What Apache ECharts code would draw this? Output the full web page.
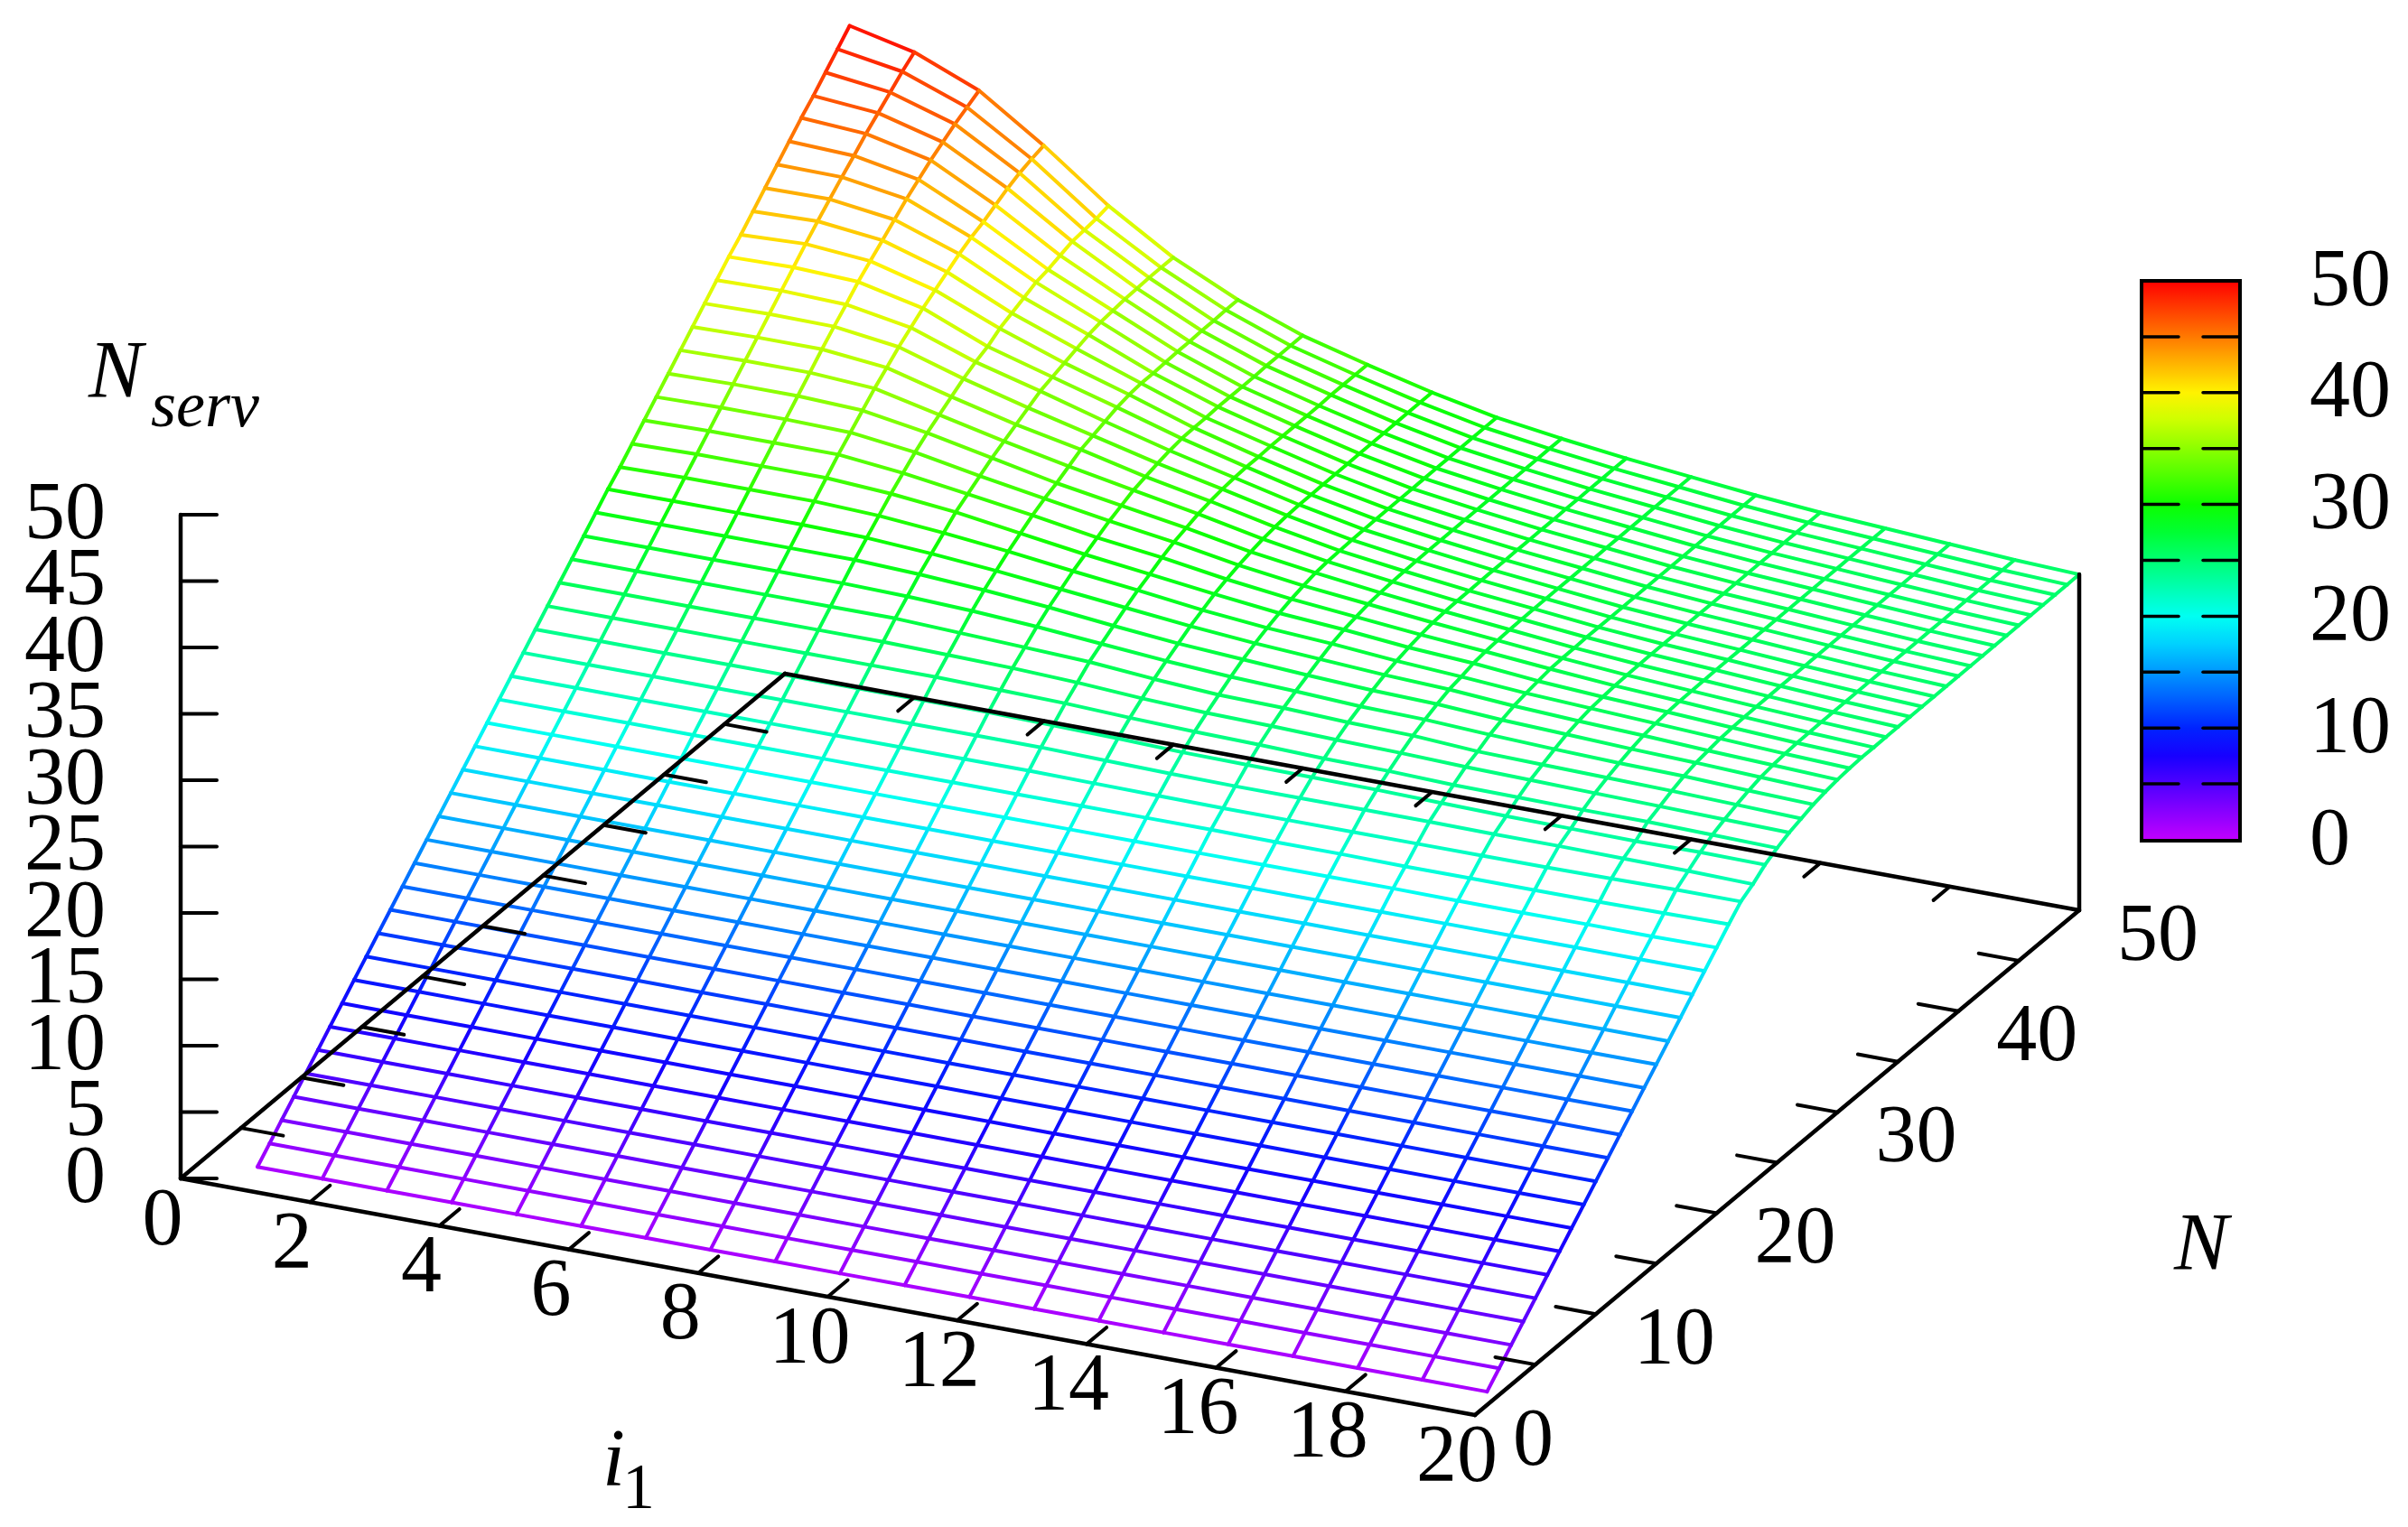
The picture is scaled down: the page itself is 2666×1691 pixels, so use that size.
<!DOCTYPE html>
<html><head><meta charset="utf-8">
<style>html,body{margin:0;padding:0;background:#fff}#c{width:2666px;height:1691px}</style>
<script src="https://cdn.jsdelivr.net/npm/echarts@6/dist/echarts.min.js"></script>
</head><body><div id="c"></div>
<script>
// N_serv read per i1 column, N = 1..50
const z_i01=[1,2,3,4,5,6,7,8,9,10,11,12,13,14,15,16,17,18,19,20,21,22,23,24,25,26,27,28,29,30,30.9,31.9,32.9,33.9,34.9,35.9,36.9,37.9,38.9,39.9,40.8,41.8,42.8,43.8,44.8,45.8,46.7,47.7,48.7,49.7];
const z_i02=[1,2,3,4,5,6,7,8,9,10,11,12,13,14,15,16,17,18,19,20,21,22,23,24,25,26,27,28,29,30,31,32,33,34,35,36,37,38,39,40,41,41.95,42.85,43.75,44.6,45.5,46.3,47.1,47.9,48.6];
const z_i03=[1,2,3,4,5,6,7,8,9,10,11,12,13,14,15,16,17,18,19,20,21,22,23,24,25,26,27,28,29,30,31,32,33,34,35,36,37,37.95,38.85,39.8,40.6,41.4,42.2,43,43.7,44.4,45,45.6,46.1,46.6];
const z_i04=[1,2,3,4,5,6,7,8,9,10,11,12,13,14,15,16,17,18,19,20,21,22,23,24,25,26,27,28,29,30,31,32,33,33.9,34.8,35.7,36.5,37.3,38,38.7,39.3,39.9,40.5,41,41.4,41.9,42.4,42.8,43.1,43.35];
const z_i05=[1,2,3,4,5,6,7,8,9,10,11,12,13,14,15,16,17,18,19,20,21,22,23,24,25,26,27,28,29,29.9,30.8,31.7,32.5,33.3,34,34.6,35.2,35.8,36.3,36.7,37.3,37.7,38.1,38.5,38.7,39,39.3,39.4,39.5,39.7];
const z_i06=[1,2,3,4,5,6,7,8,9,10,11,12,13,14,15,16,17,18,19,20,21,22,23,24,25,26,27,27.9,28.8,29.6,30.4,31.2,31.8,32.4,33,33.5,34,34.5,35,35.3,35.6,35.9,36.2,36.4,36.5,36.6,36.65,36.7,36.7,36.7];
const z_i07=[1,2,3,4,5,6,7,8,9,10,11,12,13,14,15,16,17,18,19,20,21,22,23,24,25,25.9,26.8,27.7,28.5,29.2,29.9,30.5,31.1,31.6,32,32.5,33,33.3,33.6,33.9,34.1,34.2,34.2,34.25,34.3,34.3,34.35,34.35,34.4,34.4];
const z_i08=[1,2,3,4,5,6,7,8,9,10,11,12,13,14,15,16,17,18,19,20,21,22,23,24,24.9,25.8,26.6,27.4,28.1,28.7,29.3,29.8,30.3,30.8,31.2,31.6,31.85,32.1,32.3,32.45,32.5,32.5,32.55,32.55,32.55,32.55,32.6,32.6,32.6,32.6];
const z_i09=[1,2,3,4,5,6,7,8,9,10,11,12,13,14,15,16,17,18,19,20,21,22,23,23.9,24.8,25.6,26.4,27,27.6,28.2,28.75,29.2,29.7,30.1,30.4,30.7,30.9,31.05,31.15,31.2,31.2,31.25,31.25,31.25,31.25,31.25,31.3,31.3,31.3,31.3];
const z_i10=[1,2,3,4,5,6,7,8,9,10,11,12,13,14,15,16,17,18,19,20,21,21.95,22.9,23.8,24.6,25.3,26,26.6,27.15,27.7,28.15,28.6,28.95,29.25,29.5,29.7,29.85,29.95,30,30,30.02,30.03,30.04,30.05,30.06,30.07,30.08,30.09,30.1,30.1];
const z_i11=[1,2,3,4,5,6,7,8,9,10,11,12,13,14,15,16,17,18,19,20,21,21.9,22.8,23.65,24.45,25.1,25.7,26.3,26.85,27.3,27.7,28.05,28.35,28.6,28.8,28.9,28.95,29,29.02,29.04,29.05,29.05,29.06,29.07,29.08,29.08,29.09,29.09,29.1,29.1];
const z_i12=[1,2,3,4,5,6,7,8,9,10,11,12,13,14,15,16,17,18,19,20,21,21.85,22.75,23.6,24.35,25,25.6,26.1,26.55,27,27.4,27.7,27.9,28.1,28.2,28.27,28.3,28.32,28.35,28.35,28.36,28.36,28.37,28.37,28.38,28.38,28.39,28.39,28.4,28.4];
const z_i13=[1,2,3,4,5,6,7,8,9,10,11,12,13,14,15,16,17,18,19,20,20.95,21.85,22.75,23.55,24.2,24.85,25.4,25.85,26.3,26.7,27,27.25,27.45,27.6,27.67,27.7,27.72,27.74,27.75,27.75,27.76,27.76,27.77,27.77,27.78,27.78,27.79,27.79,27.8,27.8];
const z_i14=[1,2,3,4,5,6,7,8,9,10,11,12,13,14,15,16,17,18,19,20,20.95,21.85,22.75,23.5,24.15,24.75,25.3,25.75,26.15,26.5,26.7,26.95,27.07,27.15,27.2,27.22,27.25,27.25,27.25,27.25,27.26,27.26,27.27,27.27,27.28,27.28,27.29,27.29,27.3,27.3];
const z_i15=[1,2,3,4,5,6,7,8,9,10,11,12,13,14,15,16,17,18,19,20,20.9,21.85,22.75,23.4,24,24.6,25,25.5,25.85,26.15,26.35,26.5,26.65,26.7,26.72,26.75,26.75,26.75,26.75,26.75,26.76,26.76,26.77,26.77,26.78,26.78,26.79,26.79,26.8,26.8];
const z_i16=[1,2,3,4,5,6,7,8,9,10,11,12,13,14,15,16,17,18,19,19.97,20.9,21.85,22.7,23.3,23.95,24.5,24.9,25.3,25.65,25.9,26.1,26.2,26.28,26.32,26.35,26.37,26.37,26.37,26.38,26.38,26.38,26.38,26.39,26.39,26.39,26.39,26.4,26.4,26.4,26.4];
const z_i17=[1,2,3,4,5,6,7,8,9,10,11,12,13,14,15,16,17,18,19,19.95,20.9,21.85,22.7,23.25,23.9,24.4,24.8,25.15,25.45,25.7,25.85,25.95,26,26.02,26.05,26.07,26.07,26.07,26.08,26.08,26.08,26.08,26.09,26.09,26.09,26.09,26.1,26.1,26.1,26.1];
const z_i18=[1,2,3,4,5,6,7,8,9,10,11,12,13,14,15,16,17,18,19,19.97,20.9,21.9,22.65,23.2,23.9,24.3,24.7,25.05,25.3,25.45,25.6,25.67,25.7,25.72,25.74,25.75,25.75,25.75,25.76,25.76,25.76,25.76,25.77,25.77,25.78,25.78,25.79,25.79,25.8,25.8];
const z_i19=[1,2,3,4,5,6,7,8,9,10,11,12,13,14,15,16,17,18,19,19.95,20.95,21.95,22.6,23.25,23.8,24.2,24.55,24.85,25.1,25.25,25.35,25.4,25.42,25.45,25.45,25.45,25.46,25.46,25.46,25.47,25.47,25.47,25.48,25.48,25.48,25.49,25.49,25.49,25.5,25.5];
const z_i20=[1,2,3,4,5,6,7,8,9,10,11,12,13,14,15,16,17,18,19,20,21,21.95,22.5,23.2,23.7,24.1,24.4,24.7,24.9,25.05,25.15,25.2,25.2,25.21,25.22,25.22,25.23,25.23,25.24,25.24,25.25,25.25,25.26,25.26,25.27,25.27,25.28,25.28,25.29,25.3];
const surface=[z_i01,z_i02,z_i03,z_i04,z_i05,z_i06,z_i07,z_i08,z_i09,z_i10,z_i11,z_i12,z_i13,z_i14,z_i15,z_i16,z_i17,z_i18,z_i19,z_i20];
const i1Labels=[0,2,4,6,8,10,12,14,16,18,20];
const nLabels=[0,10,20,30,40,50];
const nTicks=[5,10,15,20,25,30,35,40,45];
const zLabels=[0,5,10,15,20,25,30,35,40,45,50];
const barLabels=[0,10,20,30,40,50];
const barTicks=[5,10,15,20,25,30,35,40,45];
const rainbow=['#c000ff','#8800ff','#4f00ff','#1700ff','#0023ff','#005dff','#0097ff','#00d1ff','#00fff2','#00ffb2','#00ff73','#00ff33','#0dff00','#4dff00','#8cff00','#ccff00','#fff300','#ffb600','#ff7900','#ff3d00','#ff0000'];

// axonometric view of the (i1, N, value) box
const proj=(i,n,z)=>[200+71.65*i+13.38*n,1305+13.1*i-11.18*n-14.7*z];
const segs=[];
surface.forEach((col,a)=>col.forEach((z,b)=>{
  const p=proj(a+1,b+1,z);
  if(b<col.length-1){const q=proj(a+1,b+2,col[b+1]);segs.push([p[0],p[1],q[0],q[1],(z+col[b+1])/2]);}
  if(a<surface.length-1){const z2=surface[a+1][b];const q=proj(a+2,b+1,z2);segs.push([p[0],p[1],q[0],q[1],(z+z2)/2]);}
}));
const frame=[];
const L=(a,b,w)=>frame.push([a[0],a[1],b[0],b[1],w||4.5]);
L(proj(0,0,0),proj(20,0,0));L(proj(20,0,0),proj(20,50,0));L(proj(20,50,0),proj(0,50,0));L(proj(0,50,0),proj(0,0,0));
L(proj(0,0,0),proj(0,0,50));L(proj(20,50,0),proj(20,50,z_i20[49]));
i1Labels.slice(1,-1).forEach(v=>{L(proj(v,0,0),proj(v,1.65,0),4);L(proj(v,50,0),proj(v,48.65,0),4);});
nTicks.forEach(v=>{L(proj(20,v,0),proj(19.38,v,0),4);L(proj(0,v,0),proj(0.65,v,0),4);});
zLabels.forEach(v=>{const p=proj(0,0,v);L(p,[p[0]+40,p[1]],4);});
const barY=v=>930-12.38*v;
barTicks.forEach(v=>{L([2372,barY(v)],[2412,barY(v)],3.5);L([2439,barY(v)],[2478,barY(v)],3.5);});
const SERIF='"Liberation Serif","Times New Roman",serif';
const F=90;
const labelData=[];
const add=(s,x,y,al,font)=>labelData.push([x,y,s,al,font]);
i1Labels.forEach(v=>{const p=proj(v,0,0);add(v,p[0]-20,p[1]+49,'center',F+'px '+SERIF);});
nLabels.forEach(v=>{const p=proj(20,v,0);add(v,p[0]+42,p[1]+31,'left',F+'px '+SERIF);});
zLabels.forEach(v=>{const p=proj(0,0,v);add(v,117,p[1]+2,'right',F+'px '+SERIF);});
barLabels.forEach(v=>add(v,2557,barY(v)+3,'left',F+'px '+SERIF));
add('N',98,416,'left','italic '+F+'px '+SERIF);
add('serv',167,453,'left','italic 72px '+SERIF);
add('i',667,1621,'left','italic '+F+'px '+SERIF);
add('1',689,1651,'left','72px '+SERIF);
add('N',2407,1382,'left','italic '+F+'px '+SERIF);

const chart=echarts.init(document.getElementById('c'),null,{renderer:'canvas'});
chart.setOption({
  animation:false,backgroundColor:'#fff',
  grid:{left:0,right:0,top:0,bottom:0,containLabel:false},
  xAxis:{type:'value',min:0,max:2666,show:false},
  yAxis:{type:'value',min:0,max:1691,inverse:true,show:false},
  visualMap:{type:'continuous',z:1,seriesIndex:0,dimension:4,min:0,max:50,left:2372,top:311,itemWidth:107,itemHeight:619,padding:0,
    text:null,showLabel:false,calculable:false,realtime:false,hoverLink:false,inRange:{color:rainbow},textStyle:{color:'transparent',fontSize:1},formatter:()=>''},
  series:[
    {type:'custom',coordinateSystem:'cartesian2d',silent:true,clip:false,z:2,encode:{x:[0,2],y:[1,3]},data:segs,
     renderItem:(p,api)=>{const a=api.coord([api.value(0),api.value(1)]),b=api.coord([api.value(2),api.value(3)]);
       return {type:'line',shape:{x1:a[0],y1:a[1],x2:b[0],y2:b[1]},style:{stroke:api.visual('color'),lineWidth:4,lineCap:'round'},silent:true};}},
    {type:'custom',coordinateSystem:'cartesian2d',silent:true,clip:false,z:3,encode:{x:[0,2],y:[1,3]},data:frame,
     renderItem:(p,api)=>{const a=api.coord([api.value(0),api.value(1)]),b=api.coord([api.value(2),api.value(3)]);
       return {type:'line',shape:{x1:a[0],y1:a[1],x2:b[0],y2:b[1]},style:{stroke:'#000',lineWidth:api.value(4),lineCap:'round'},silent:true};}},
    {type:'custom',coordinateSystem:'cartesian2d',silent:true,clip:false,z:4,encode:{x:0,y:1},
     data:labelData.map(d=>[d[0],d[1]]),
     renderItem:(p,api)=>{const d=labelData[p.dataIndex];const a=api.coord([d[0],d[1]]);
       return {type:'text',x:a[0],y:a[1],silent:true,style:{text:String(d[2]),fill:'#000',font:d[4],align:d[3],verticalAlign:'middle'}};}}
  ],
  graphic:[{type:'rect',z:100,silent:true,shape:{x:2371,y:311,width:109,height:620},style:{fill:'none',stroke:'#000',lineWidth:4}}]
});
</script></body></html>
